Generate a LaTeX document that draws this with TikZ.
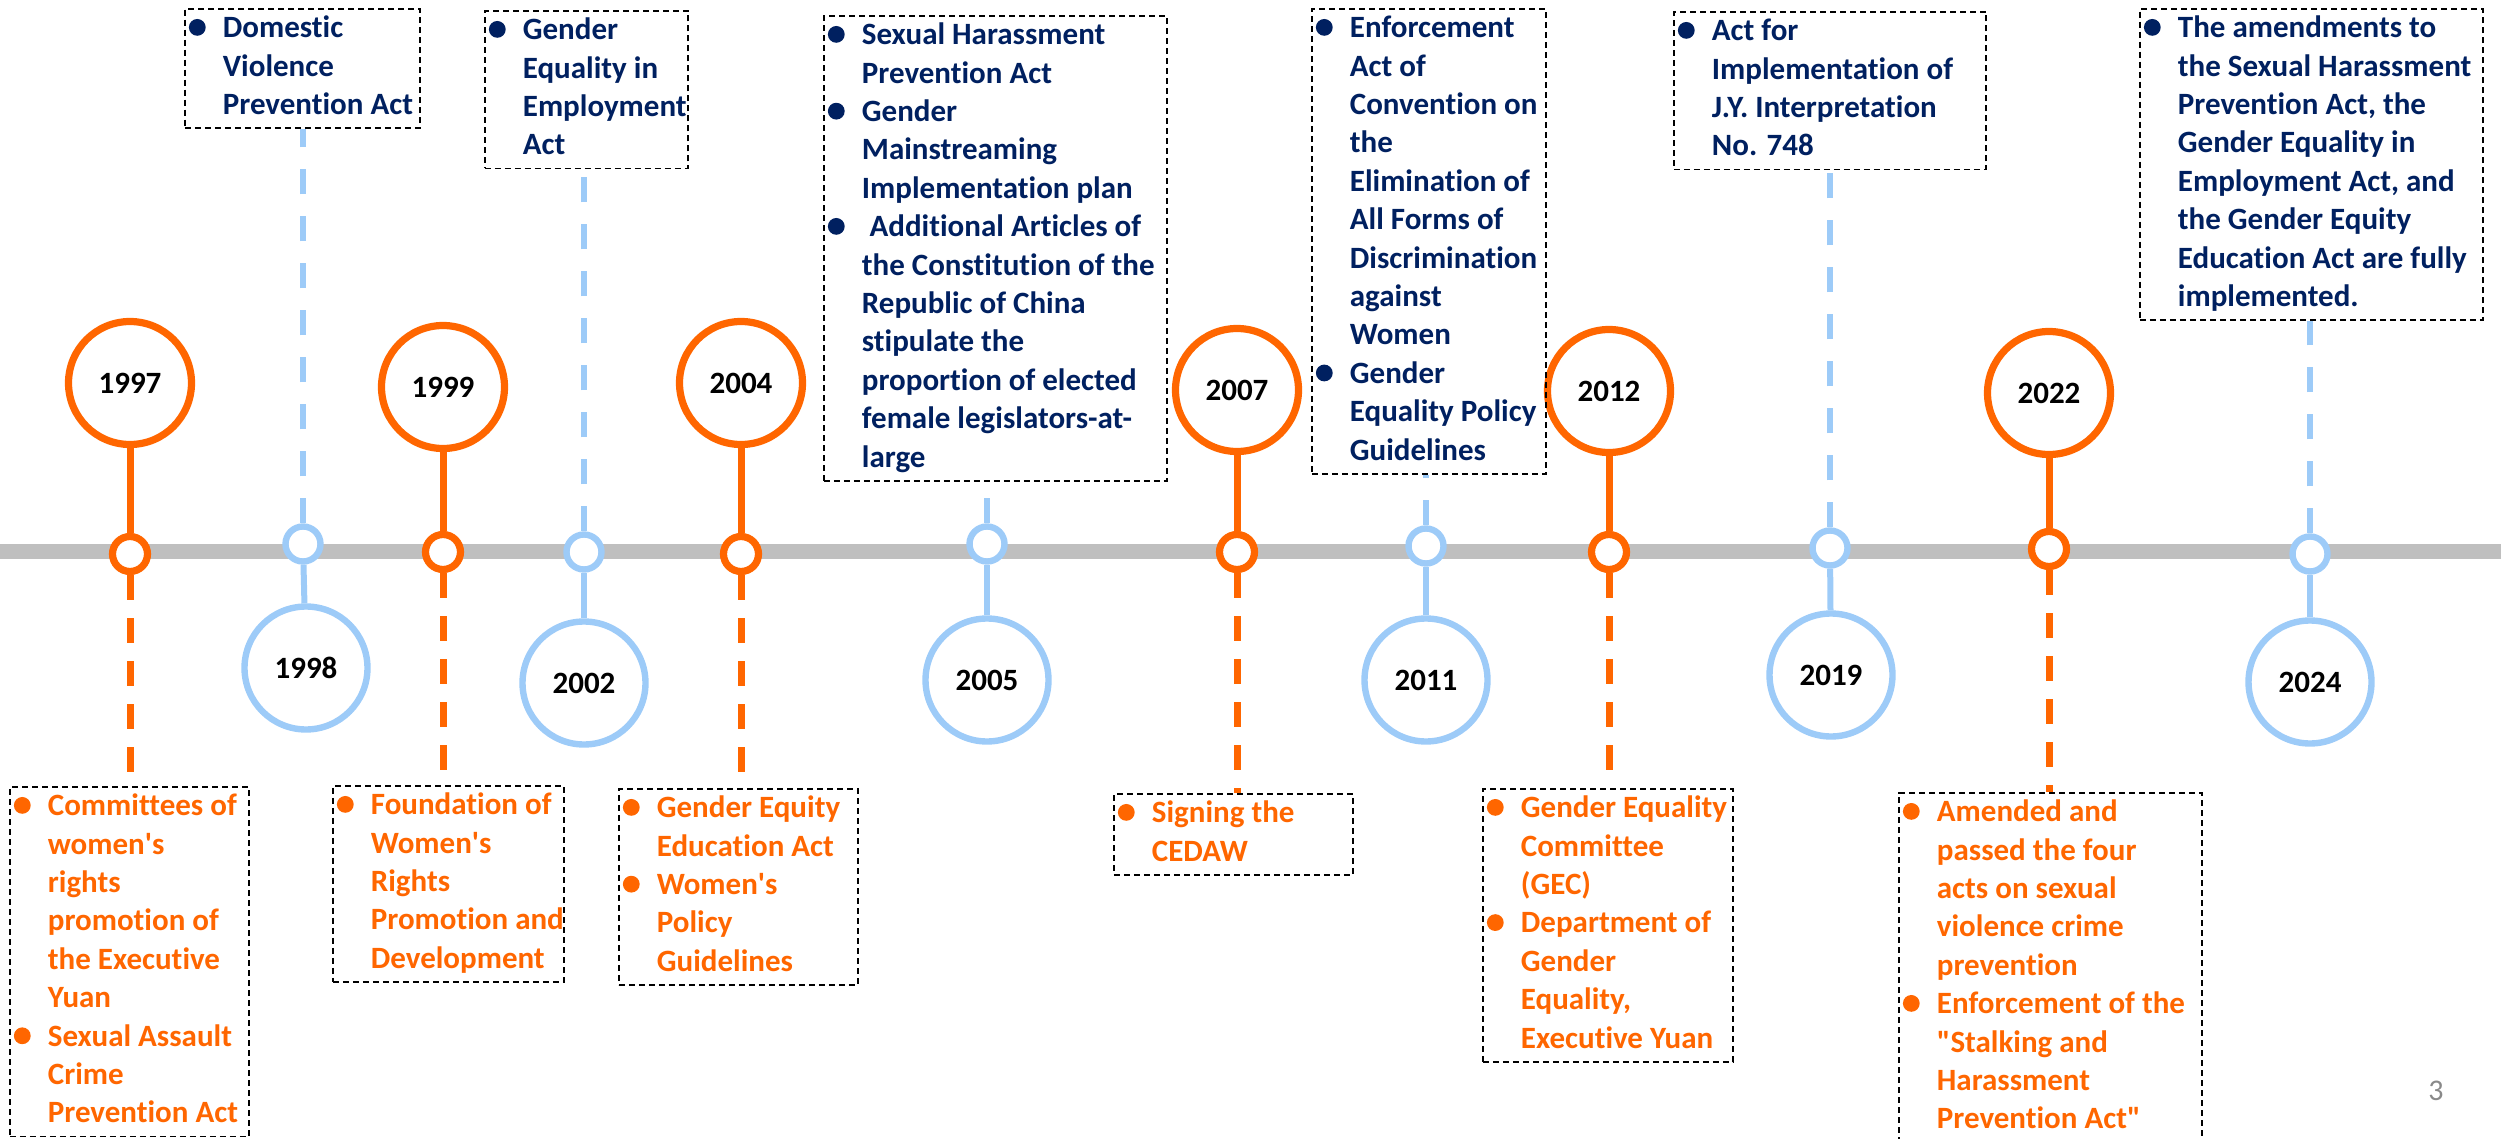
\documentclass[tikz,border=0pt]{standalone}
\usepackage{fontspec}
\setmainfont{Carlito}[Ligatures=NoCommon]
\usepackage{array}
\definecolor{tOrange}{HTML}{FF6600}
\definecolor{tBlue}{HTML}{9DCBF8}
\definecolor{tNavy}{HTML}{002060}
\definecolor{tGray}{HTML}{BFBFBF}
\definecolor{pGray}{HTML}{898989}
\newcommand\bul[1]{\tikz[baseline={(0pt,-5.2pt)}]\fill[#1] (4.2pt,0pt) circle (4.2pt);}
\newcommand\bn{\makebox[17pt][l]{\bul{tNavy}}&}
\newcommand\bo{\makebox[17pt][l]{\bul{tOrange}}&}
\newcommand\ap{\textquotesingle}
\newcommand\qd{\textquotedbl}
\newcommand\cont[2]{\makebox[#1][l]{\begin{tabular}{@{}l@{}l@{}}#2\end{tabular}}}
\tikzset{
  band/.style={line width=7.5pt, tGray},
  bigO/.style={circle, draw=tOrange, line width=3.6pt, fill=white, minimum size=61.5pt, inner sep=0pt,
    font=\fontsize{15.5}{19}\selectfont\bfseries, text=black},
  bigB/.style={bigO, draw=tBlue, line width=3.2pt},
  smO/.style={circle, draw=tOrange, line width=3.6pt, fill=white, minimum size=17.5pt, inner sep=0pt},
  smB/.style={smO, draw=tBlue, line width=3.2pt},
  conO/.style={tOrange, line width=3.5pt},
  conB/.style={tBlue, line width=3pt},
  dashO/.style={conO, dash pattern=on 12.5pt off 9pt},
  dashB/.style={conB, dash pattern=on 12.5pt off 11pt},
  boxU/.style={draw=black, dash pattern=on 3pt off 2pt, line width=0.9pt, anchor=north west,
    inner xsep=2pt, inner ysep=1pt, text=tNavy, font=\fontsize{15.5}{19.2}\selectfont\bfseries},
  boxL/.style={boxU, text=tOrange},
}
\begin{document}
\begin{tikzpicture}[x=0.5pt, y=-0.5pt]
\useasboundingbox (0,0) rectangle (2501,1139);
% timeline band
\coordinate (L) at (0,551);
\coordinate (R) at (2501,551);
\draw[band] (L) -- (R);

% small circles
\node[smO] (s1997) at (130,554) {};
\node[smB] (s1998) at (303,544) {};
\node[smO] (s1999) at (443,552) {};
\node[smB] (s2002) at (584,552) {};
\node[smO] (s2004) at (741,554) {};
\node[smB] (s2005) at (987,544) {};
\node[smO] (s2007) at (1237,552) {};
\node[smB] (s2011) at (1426,546) {};
\node[smO] (s2012) at (1609,552) {};
\node[smB] (s2019) at (1830,548) {};
\node[smO] (s2022) at (2049,549) {};
\node[smB] (s2024) at (2310,554) {};

% big circles
\node[bigO] (b1997) at (130,383) {1997};
\node[bigO] (b1999) at (443,387) {1999};
\node[bigO] (b2004) at (741,383) {2004};
\node[bigO] (b2007) at (1237,390) {2007};
\node[bigO] (b2012) at (1609,391) {2012};
\node[bigO] (b2022) at (2049,393) {2022};
\node[bigB] (b1998) at (306,668) {1998};
\node[bigB] (b2002) at (584,683) {2002};
\node[bigB] (b2005) at (987,680) {2005};
\node[bigB] (b2011) at (1426,680) {2011};
\node[bigB] (b2019) at (1831,675) {2019};
\node[bigB] (b2024) at (2310,682) {2024};

% upper boxes
\node[boxU] (u1998) at (184,8) {\cont{113.5pt}{\bn Domestic\\ & Violence\\ & Prevention Act}};
\node[boxU] (u2002) at (484,10) {\cont{97.5pt}{\bn Gender\\ & Equality in\\ & Employment\\ & Act}};
\node[boxU] (u2005) at (823,15) {\cont{167.5pt}{\bn Sexual Harassment\\ & Prevention Act\\
  \bn Gender\\ & Mainstreaming\\ & Implementation plan\\
  \bn \hspace{0.25em}Additional Articles of\\ & the Constitution of the\\ & Republic of China\\ & stipulate the\\
  & proportion of elected\\ & female legislators-at-\\ & large}};
\node[boxU] (u2011) at (1311,8) {\cont{113pt}{\bn Enforcement\\ & Act of\\ & Convention on\\ & the\\ & Elimination of\\
  & All Forms of\\ & Discrimination\\ & against\\ & Women\\
  \bn Gender\\ & Equality Policy\\ & Guidelines}};
\node[boxU] (u2019) at (1673,11) {\cont{152pt}{\bn Act for\\ & Implementation of\\ & J.Y. Interpretation\\ & No. 748}};
\node[boxU] (u2024) at (2139,8) {\cont{167.5pt}{\bn The amendments to\\ & the Sexual Harassment\\ & Prevention Act, the\\
  & Gender Equality in\\ & Employment Act, and\\ & the Gender Equity\\ & Education Act are fully\\ & implemented.}};

% lower boxes
\node[boxL] (l1997) at (9,786) {\cont{115.5pt}{\bo Committees of\\ & women\ap s\\ & rights\\ & promotion of\\ & the Executive\\ & Yuan\\
  \bo Sexual Assault\\ & Crime\\ & Prevention Act}};
\node[boxL] (l1999) at (332,785) {\cont{111.5pt}{\bo Foundation of\\ & Women\ap s\\ & Rights\\ & Promotion and\\ & Development}};
\node[boxL] (l2004) at (618,788) {\cont{115.5pt}{\bo Gender Equity\\ & Education Act\\ \bo Women\ap s\\ & Policy\\ & Guidelines}};
\node[boxL] (l2007) at (1113,793) {\cont{115.5pt}{\bo Signing the\\ & CEDAW}};
\node[boxL] (l2012) at (1482,788) {\cont{121pt}{\bo Gender Equality\\ & Committee\\ & (GEC)\\
  \bo Department of\\ & Gender\\ & Equality,\\ & Executive Yuan}};
\node[boxL] (l2022) at (1898,792) {\cont{147.5pt}{\bo Amended and\\ & passed the four\\ & acts on sexual\\ & violence crime\\ & prevention\\
  \bo Enforcement of the\\ & \qd Stalking and\\ & Harassment\\ & Prevention Act\qd}};

% connectors: orange
\foreach \y in {1997,1999,2004,2007,2012,2022}{
  \draw[conO] (b\y) -- (s\y);
  \draw[dashO] (s\y.south) -- (s\y.south |- l\y.north);
}
% connectors: blue
\foreach \y in {1998,2002,2005,2011,2019,2024}{
  \draw[conB] (s\y) -- (b\y);
  \draw[dashB] (s\y.north) -- (s\y.north |- u\y.south);
}

% page number
\node[font=\fontsize{15}{18}\selectfont, text=pGray] (pg) at (2436,1091) {3};
\end{tikzpicture}
\end{document}
